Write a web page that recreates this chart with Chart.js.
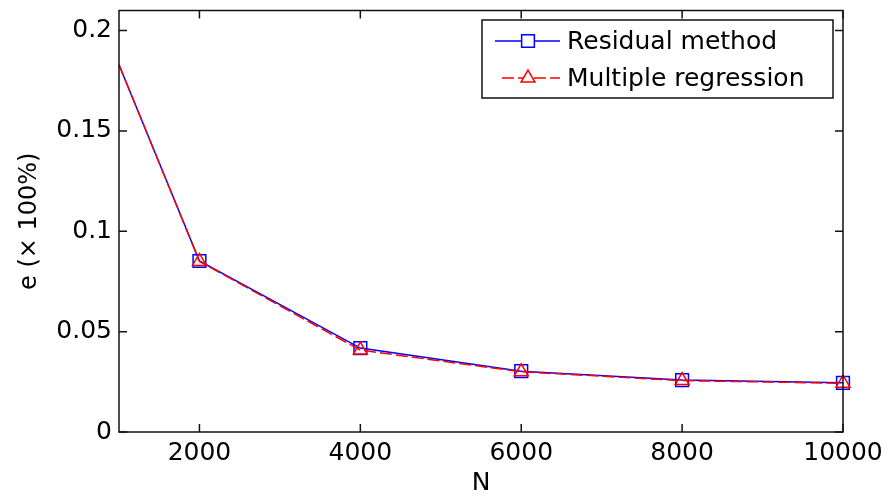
<!DOCTYPE html>
<html>
<head>
<meta charset="utf-8">
<script src="https://cdn.jsdelivr.net/npm/chart.js@4/dist/chart.umd.min.js"></script>
<style>
  html, body { margin: 0; padding: 0; background: #fff; }
  #wrap { width: 889px; height: 498px; }
</style>
</head>
<body>
<div id="wrap"><canvas id="errChart" width="889" height="498"></canvas></div>
<script>
// values
const nValues = [1000, 2000, 4000, 6000, 8000, 10000];
const residualErr = [0.183, 0.0852, 0.0418, 0.0303, 0.0259, 0.0245];
const regressionErr = [0.183, 0.0850, 0.0408, 0.0300, 0.0256, 0.0243];
const seriesNames = ['Residual method', 'Multiple regression'];
const xTicks = [2000, 4000, 6000, 8000, 10000];
const yTicks = [0, 0.05, 0.1, 0.15, 0.2];
const yTickLabels = ['0', '0.05', '0.1', '0.15', '0.2'];

const FONT = 'DejaVu Sans';
const markerRadius = nValues.map((n, i) => i === 0 ? 0 : 9);

// MATLAB-like box, inward ticks and legend
const boxPlugin = {
    id: 'matlabBox',
    afterDraw(chart) {
        const { ctx, chartArea: a, scales } = chart;
        const tl = 8;
        ctx.save();
        ctx.strokeStyle = '#111';
        ctx.lineWidth = 1.5;
        ctx.strokeRect(a.left, a.top, a.right - a.left, a.bottom - a.top);
        ctx.beginPath();
        xTicks.forEach(v => {
            const x = scales.x.getPixelForValue(v);
            ctx.moveTo(x, a.bottom); ctx.lineTo(x, a.bottom - tl);
            ctx.moveTo(x, a.top); ctx.lineTo(x, a.top + tl);
        });
        yTicks.forEach(v => {
            const y = scales.y.getPixelForValue(v);
            ctx.moveTo(a.left, y); ctx.lineTo(a.left + tl, y);
            ctx.moveTo(a.right, y); ctx.lineTo(a.right - tl, y);
        });
        ctx.stroke();

        // legend box
        const lx = 482, ly = 20, lw = 351, lh = 78;
        ctx.fillStyle = '#fff';
        ctx.fillRect(lx, ly, lw, lh);
        ctx.strokeRect(lx, ly, lw, lh);
        const rows = [41, 78];
        chart.data.datasets.forEach((ds, i) => {
            const y = rows[i];
            ctx.strokeStyle = ds.borderColor;
            ctx.lineWidth = 1.5;
            ctx.setLineDash(ds.borderDash || []);
            ctx.beginPath();
            ctx.moveTo(i === 0 ? 495 : 502, y);
            ctx.lineTo(560, y);
            ctx.stroke();
            ctx.setLineDash([]);
            ctx.fillStyle = '#fff';
            Chart.helpers.drawPoint(ctx, {
                pointStyle: ds.pointStyle, radius: ds.legendRadius, rotation: 0,
                borderWidth: 1.5
            }, 528, y);
            ctx.fillStyle = '#000';
            ctx.font = '25px "' + FONT + '"';
            ctx.textBaseline = 'middle';
            ctx.fillText(ds.label, 567, y + 1);
        });
        ctx.restore();
    }
};

const ctx = document.getElementById('errChart').getContext('2d');
const errChart = new Chart(ctx, {
    type: 'line',
    data: {
        datasets: [{
            label: seriesNames[0],
            data: nValues.map((n, i) => ({ x: n, y: residualErr[i] })),
            borderColor: '#0000ff',
            backgroundColor: 'rgba(0,0,0,0)',
            borderWidth: 1.5,
            pointStyle: 'rect',
            pointRadius: markerRadius,
            pointBorderWidth: 1.5,
            legendRadius: 9,
            order: 2,
            clip: false
        }, {
            label: seriesNames[1],
            data: nValues.map((n, i) => ({ x: n, y: regressionErr[i] })),
            borderColor: '#ff0000',
            backgroundColor: 'rgba(0,0,0,0)',
            borderWidth: 1.5,
            borderDash: [12, 4],
            pointStyle: 'triangle',
            pointRadius: markerRadius.map(r => r ? 8 : 0),
            pointBorderWidth: 1.5,
            legendRadius: 8,
            order: 1,
            clip: false
        }]
    },
    options: {
        responsive: false,
        animation: false,
        layout: { padding: { left: 0, top: 10, right: 46, bottom: 0 } },
        plugins: {
            legend: { display: false },
            tooltip: { enabled: false }
        },
        scales: {
            x: {
                type: 'linear',
                min: 1000,
                max: 10000,
                afterBuildTicks: s => { s.ticks = xTicks.map(v => ({ value: v })); },
                afterFit: s => { s.height = 66; s.paddingLeft = 0; s.paddingRight = 0; },
                grid: { display: false, drawTicks: false },
                border: { display: false },
                ticks: {
                    color: '#000',
                    padding: 6,
                    maxRotation: 0,
                    font: { family: FONT, size: 25 },
                    callback: v => String(v)
                },
                title: {
                    display: true,
                    text: 'N',
                    color: '#000',
                    padding: { top: 0, bottom: 0 },
                    font: { family: FONT, size: 25 }
                }
            },
            y: {
                min: 0,
                max: 0.21,
                afterBuildTicks: s => { s.ticks = yTicks.map(v => ({ value: v })); },
                afterFit: s => { s.width = 119; s.paddingTop = 0; s.paddingBottom = 0; },
                grid: { display: false, drawTicks: false },
                border: { display: false },
                ticks: {
                    color: '#000',
                    padding: 7,
                    font: { family: FONT, size: 25 },
                    callback: v => yTickLabels[yTicks.indexOf(v)]
                },
                title: {
                    display: true,
                    text: 'e (× 100%)',
                    color: '#000',
                    padding: { top: 15, bottom: 0 },
                    font: { family: FONT, size: 24 }
                }
            }
        }
    },
    plugins: [boxPlugin]
});
</script>
</body>
</html>
